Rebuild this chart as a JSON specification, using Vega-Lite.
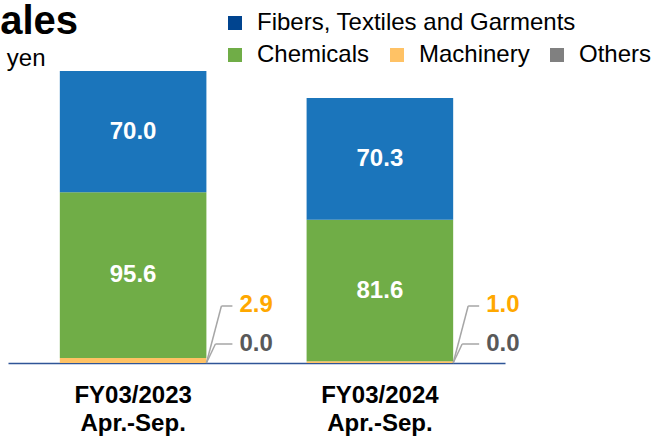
{
  "$schema": "https://vega.github.io/schema/vega-lite/v6.json",
  "autosize": "none",
  "width": 497,
  "height": 292,
  "padding": {"left": 8, "top": 71, "right": 158, "bottom": 78},
  "background": "white",
  "config": {
    "font": "Liberation Sans",
    "view": {"stroke": null},
    "legend": {"padding": 0}
  },
  "title": {
    "text": "Net Sales",
    "anchor": "start",
    "frame": "group",
    "dx": -110,
    "fontSize": 40,
    "fontWeight": "bold",
    "color": "#000000",
    "baseline": "alphabetic",
    "offset": -63
  },
  "data": {
    "values": [
      {"period": "FY03/2023 Apr.-Sep.", "segment": "Others", "order": 0, "value": 0.0},
      {"period": "FY03/2023 Apr.-Sep.", "segment": "Machinery", "order": 1, "value": 2.9},
      {"period": "FY03/2023 Apr.-Sep.", "segment": "Chemicals", "order": 2, "value": 95.6},
      {"period": "FY03/2023 Apr.-Sep.", "segment": "Fibers, Textiles and Garments", "order": 3, "value": 70.0},
      {"period": "FY03/2024 Apr.-Sep.", "segment": "Others", "order": 0, "value": 0.0},
      {"period": "FY03/2024 Apr.-Sep.", "segment": "Machinery", "order": 1, "value": 1.0},
      {"period": "FY03/2024 Apr.-Sep.", "segment": "Chemicals", "order": 2, "value": 81.6},
      {"period": "FY03/2024 Apr.-Sep.", "segment": "Fibers, Textiles and Garments", "order": 3, "value": 70.3}
    ]
  },
  "transform": [
    {"stack": "value", "groupby": ["period"], "sort": [{"field": "order", "order": "ascending"}], "as": ["v0", "v1"]},
    {"calculate": "(datum.v0 + datum.v1) / 2", "as": "mid"}
  ],
  "layer": [
    {
      "mark": {"type": "bar"},
      "encoding": {
        "x": {
          "field": "period", "type": "nominal", "sort": null,
          "scale": {"paddingInner": 0.406, "paddingOuter": 0.21},
          "axis": {
            "title": null,
            "labelExpr": "split(datum.label, ' ')",
            "labelAngle": 0,
            "labelFontSize": 24,
            "labelFontWeight": "bold",
            "labelColor": "#000000",
            "labelLineHeight": 28,
            "labelPadding": 20,
            "labelBaseline": "top",
            "ticks": false,
            "domainColor": "#2F5597",
            "domainWidth": 1.5
          }
        },
        "y": {
          "field": "v0", "type": "quantitative",
          "scale": {"domain": [0, 168.5], "nice": false},
          "axis": {
            "title": "Billion yen",
            "titleAngle": 0,
            "titleAlign": "right",
            "titleBaseline": "alphabetic",
            "titleX": 37,
            "titleY": -5.5,
            "titleFontSize": 24,
            "titleFontWeight": "normal",
            "titleColor": "#000000",
            "domain": false,
            "ticks": false,
            "labels": false,
            "grid": false
          }
        },
        "y2": {"field": "v1"},
        "color": {
          "field": "segment", "type": "nominal",
          "scale": {
            "domain": ["Fibers, Textiles and Garments", "Chemicals", "Machinery", "Others"],
            "range": ["#1B75BB", "#70AD47", "#FFC265", "#808080"]
          },
          "legend": {
            "title": null,
            "values": ["Chemicals", "Machinery", "Others"],
            "orient": "none",
            "direction": "horizontal",
            "legendX": 215,
            "legendY": -28,
            "columnPadding": 15,
            "symbolType": "square",
            "symbolSize": 196,
            "symbolStrokeWidth": 0,
            "labelFontSize": 24,
            "labelColor": "#000000",
            "labelLimit": 500,
            "labelOffset": 10
          }
        }
      }
    },
    {
      "transform": [{"filter": "datum.segment == 'Fibers, Textiles and Garments'"}],
      "mark": {"type": "text", "fontSize": 1},
      "encoding": {
        "x": {"field": "period", "type": "nominal", "sort": null},
        "y": {"field": "mid", "type": "quantitative"},
        "text": {"value": ""},
        "color": {
          "field": "segment", "type": "nominal",
          "scale": {
            "domain": ["Fibers, Textiles and Garments"],
            "range": ["#00448F"]
          },
          "legend": {
            "title": null,
            "orient": "none",
            "legendX": 215,
            "legendY": -60,
            "symbolType": "square",
            "symbolSize": 196,
            "symbolStrokeWidth": 0,
            "labelFontSize": 24,
            "labelColor": "#000000",
            "labelLimit": 500,
            "labelOffset": 10
          }
        }
      }
    },
    {
      "transform": [{"filter": "datum.segment == 'Fibers, Textiles and Garments' || datum.segment == 'Chemicals'"}],
      "mark": {"type": "text", "color": "#FFFFFF", "fontSize": 24, "fontWeight": "bold", "baseline": "middle"},
      "encoding": {
        "x": {"field": "period", "type": "nominal", "sort": null},
        "y": {"field": "mid", "type": "quantitative"},
        "text": {"field": "value", "type": "quantitative", "format": ".1f"}
      }
    },
    {
      "transform": [{"filter": "datum.segment == 'Machinery'"}],
      "mark": {"type": "text", "color": "#FFA800", "fontSize": 24, "fontWeight": "bold", "baseline": "middle", "align": "left", "dx": 33, "dy": -58},
      "encoding": {
        "x": {"field": "period", "type": "nominal", "sort": null, "bandPosition": 1},
        "y": {"datum": 0},
        "text": {"field": "value", "type": "quantitative", "format": ".1f"}
      }
    },
    {
      "transform": [{"filter": "datum.segment == 'Others'"}],
      "mark": {"type": "text", "color": "#595959", "fontSize": 24, "fontWeight": "bold", "baseline": "middle", "align": "left", "dx": 33, "dy": -19},
      "encoding": {
        "x": {"field": "period", "type": "nominal", "sort": null, "bandPosition": 1},
        "y": {"datum": 0},
        "text": {"field": "value", "type": "quantitative", "format": ".1f"}
      }
    },
    {
      "transform": [{"filter": "datum.segment == 'Machinery'"}],
      "mark": {"type": "rule", "color": "#A6A6A6", "strokeWidth": 1.5, "x2Offset": 15, "y2Offset": -57},
      "encoding": {
        "x": {"field": "period", "type": "nominal", "sort": null, "bandPosition": 1},
        "x2": {"field": "period", "bandPosition": 1},
        "y": {"datum": 0},
        "y2": {"datum": 0}
      }
    },
    {
      "transform": [{"filter": "datum.segment == 'Machinery'"}],
      "mark": {"type": "rule", "color": "#A6A6A6", "strokeWidth": 1.5, "xOffset": 15, "x2Offset": 26, "yOffset": -57, "y2Offset": -57},
      "encoding": {
        "x": {"field": "period", "type": "nominal", "sort": null, "bandPosition": 1},
        "x2": {"field": "period", "bandPosition": 1},
        "y": {"datum": 0},
        "y2": {"datum": 0}
      }
    },
    {
      "transform": [{"filter": "datum.segment == 'Others'"}],
      "mark": {"type": "rule", "color": "#A6A6A6", "strokeWidth": 1.5, "x2Offset": 9, "y2Offset": -19},
      "encoding": {
        "x": {"field": "period", "type": "nominal", "sort": null, "bandPosition": 1},
        "x2": {"field": "period", "bandPosition": 1},
        "y": {"datum": 0},
        "y2": {"datum": 0}
      }
    },
    {
      "transform": [{"filter": "datum.segment == 'Others'"}],
      "mark": {"type": "rule", "color": "#A6A6A6", "strokeWidth": 1.5, "xOffset": 9, "x2Offset": 26, "yOffset": -19, "y2Offset": -19},
      "encoding": {
        "x": {"field": "period", "type": "nominal", "sort": null, "bandPosition": 1},
        "x2": {"field": "period", "bandPosition": 1},
        "y": {"datum": 0},
        "y2": {"datum": 0}
      }
    }
  ],
  "resolve": {"scale": {"color": "independent"}}
}
